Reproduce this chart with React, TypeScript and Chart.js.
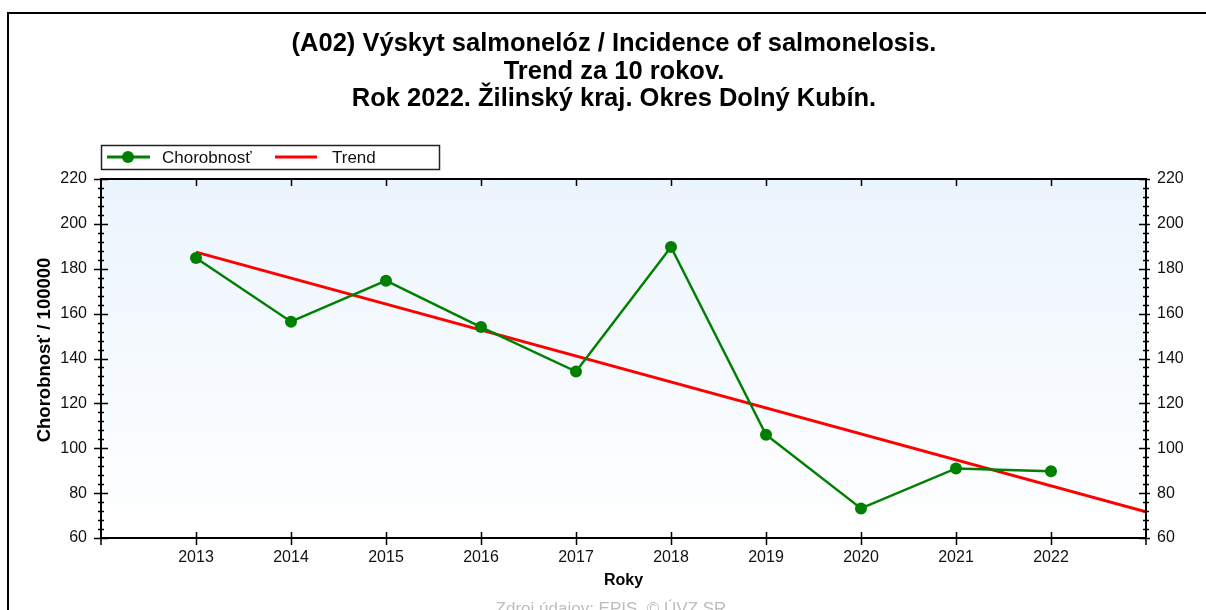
import React, { useEffect, useRef } from 'react';
import { Chart, registerables } from 'chart.js';

Chart.register(...registerables);

const titleLines = [
  '(A02) Výskyt salmonelóz / Incidence of salmonelosis.',
  'Trend za 10 rokov.',
  'Rok 2022. Žilinský kraj. Okres Dolný Kubín.',
];
const years = [2013, 2014, 2015, 2016, 2017, 2018, 2019, 2020, 2021, 2022];
const incidence = [184.8, 156.4, 174.7, 154.0, 134.2, 189.7, 106.0, 73.2, 91.0, 89.8];
const trendYears = [2013, 2023];
const trendValues = [187.4, 71.7];
const xMin = 2012;
const xMax = 2023;
const yMin = 60;
const yMax = 220;
const yStep = 20;
const yMinorStep = 4;
const seriesLabel = 'Chorobnosť';
const trendLabel = 'Trend';
const yTitle = 'Chorobnosť / 100000';
const xTitle = 'Roky';
const sourceText = 'Zdroj údajov: EPIS, © ÚVZ SR';

const FONT = '"Liberation Sans", Arial, sans-serif';
const GREEN = '#008000';
const RED = '#ff0000';

const decorPlugin = {
  id: 'decor',
  beforeDraw(chart: any) {
    const { ctx, chartArea } = chart;
    const { left, right, top, bottom } = chartArea;
    ctx.save();
    ctx.fillStyle = '#ffffff';
    ctx.fillRect(0, 0, chart.width, chart.height);
    // outer frame
    ctx.strokeStyle = '#000';
    ctx.lineWidth = 2;
    ctx.strokeRect(8, 13, 1220, 640);
    // plot background gradient
    const g = ctx.createLinearGradient(0, top, 0, bottom);
    g.addColorStop(0, '#ebf4fd');
    g.addColorStop(1, '#ffffff');
    ctx.fillStyle = g;
    ctx.fillRect(left, top, right - left, bottom - top);
    ctx.restore();
  },
  afterDraw(chart: any) {
    const { ctx, chartArea } = chart;
    const { left, right, top, bottom } = chartArea;
    const ys = chart.scales.y;
    const xs = chart.scales.x;
    ctx.save();
    ctx.strokeStyle = '#000';
    // axes frame
    ctx.lineWidth = 2;
    ctx.strokeRect(left, top, right - left, bottom - top);
    ctx.lineWidth = 1.5;
    ctx.beginPath();
    for (let v = yMin; v <= yMax; v += yMinorStep) {
      const p = Math.round(ys.getPixelForValue(v)) + 0.5;
      const major = (v - yMin) % yStep === 0;
      const len = major ? 7 : 3;
      ctx.moveTo(left - len, p);
      ctx.lineTo(left + len, p);
      ctx.moveTo(right - len, p);
      ctx.lineTo(right + (major ? 4 : 3), p);
    }
    for (const yr of years) {
      const p = Math.round(xs.getPixelForValue(yr)) + 0.5;
      ctx.moveTo(p, bottom - 6);
      ctx.lineTo(p, bottom + 7);
      ctx.moveTo(p, top);
      ctx.lineTo(p, top + 7);
    }
    ctx.moveTo(left, bottom);
    ctx.lineTo(left, bottom + 7);
    ctx.moveTo(right, bottom);
    ctx.lineTo(right, bottom + 7);
    ctx.stroke();

    // title
    ctx.fillStyle = '#000';
    ctx.textAlign = 'center';
    ctx.textBaseline = 'middle';
    ctx.font = `bold 25.5px ${FONT}`;
    const tY = [44, 71.5, 99];
    titleLines.forEach((t, i) => ctx.fillText(t, 614, tY[i]));

    // x title
    ctx.font = `bold 16px ${FONT}`;
    ctx.fillText(xTitle, (left + right) / 2, 581);

    // y title
    ctx.save();
    ctx.translate(45, 350);
    ctx.rotate(-Math.PI / 2);
    ctx.font = `bold 18.5px ${FONT}`;
    ctx.fillText(yTitle, 0, 0);
    ctx.restore();

    // source
    ctx.fillStyle = '#bdbdbd';
    ctx.font = `17px ${FONT}`;
    ctx.textBaseline = 'alphabetic';
    ctx.fillText(sourceText, 611, 614);

    // legend
    ctx.fillStyle = '#fff';
    ctx.fillRect(101, 145, 338, 24);
    ctx.strokeStyle = '#222';
    ctx.lineWidth = 1.5;
    ctx.strokeRect(101.5, 145.5, 338, 24);
    const ly = 157;
    ctx.strokeStyle = GREEN;
    ctx.lineWidth = 3;
    ctx.beginPath();
    ctx.moveTo(107, ly);
    ctx.lineTo(150, ly);
    ctx.stroke();
    ctx.fillStyle = GREEN;
    ctx.beginPath();
    ctx.arc(128, ly, 6, 0, Math.PI * 2);
    ctx.fill();
    ctx.strokeStyle = RED;
    ctx.beginPath();
    ctx.moveTo(275, ly);
    ctx.lineTo(317, ly);
    ctx.stroke();
    ctx.fillStyle = '#111';
    ctx.textAlign = 'left';
    ctx.textBaseline = 'middle';
    ctx.font = `17px ${FONT}`;
    ctx.fillText(seriesLabel, 162, ly + 1);
    ctx.fillText(trendLabel, 332, ly + 1);
    ctx.restore();
  },
};

export default function App() {
  const ref = useRef<HTMLCanvasElement>(null);
  useEffect(() => {
    if (!ref.current) return;
    const tickFont = { family: FONT, size: 16 };
    const chart = new Chart(ref.current, {
      type: 'line',
      data: {
        datasets: [
          {
            label: seriesLabel,
            data: years.map((x, i) => ({ x, y: incidence[i] })),
            borderColor: GREEN,
            backgroundColor: GREEN,
            borderWidth: 2.5,
            pointRadius: 6,
            pointBackgroundColor: GREEN,
            pointBorderWidth: 0,
            tension: 0,
            order: 0,
          },
          {
            label: trendLabel,
            data: trendYears.map((x, i) => ({ x, y: trendValues[i] })),
            borderColor: RED,
            backgroundColor: RED,
            borderWidth: 3,
            pointRadius: 0,
            tension: 0,
            order: 1,
          },
        ],
      },
      options: {
        animation: false,
        responsive: false,
        devicePixelRatio: 1,
        layout: { padding: { top: 179, left: 0, right: 0, bottom: 0 } },
        plugins: { legend: { display: false }, tooltip: { enabled: false }, title: { display: false } },
        scales: {
          x: {
            type: 'linear',
            min: xMin,
            max: xMax,
            grid: { display: false, drawTicks: false },
            border: { display: false },
            afterBuildTicks: (s: any) => {
              s.ticks = years.map((v) => ({ value: v }));
            },
            afterFit: (s: any) => {
              s.height = 72;
            },
            ticks: {
              font: tickFont,
              color: '#111',
              padding: 10,
              autoSkip: false,
              maxRotation: 0,
              callback: (v: any) => String(v),
            },
          },
          y: {
            position: 'left',
            min: yMin,
            max: yMax,
            grid: { display: false, drawTicks: false },
            border: { display: false },
            afterFit: (s: any) => {
              s.width = 101;
            },
            ticks: { stepSize: yStep, font: tickFont, color: '#111', padding: 14 },
          },
          y1: {
            position: 'right',
            min: yMin,
            max: yMax,
            grid: { display: false, drawTicks: false },
            border: { display: false },
            afterFit: (s: any) => {
              s.width = 60;
            },
            ticks: { stepSize: yStep, font: tickFont, color: '#111', padding: 11 },
          },
        },
      } as any,
      plugins: [decorPlugin],
    });
    return () => chart.destroy();
  }, []);
  return (
    <div style={{ position: 'fixed', left: 0, top: 0, width: 1206, height: 610, overflow: 'hidden' }}>
      <canvas ref={ref} width={1206} height={610} style={{ display: 'block', width: 1206, height: 610 }} />
    </div>
  );
}
